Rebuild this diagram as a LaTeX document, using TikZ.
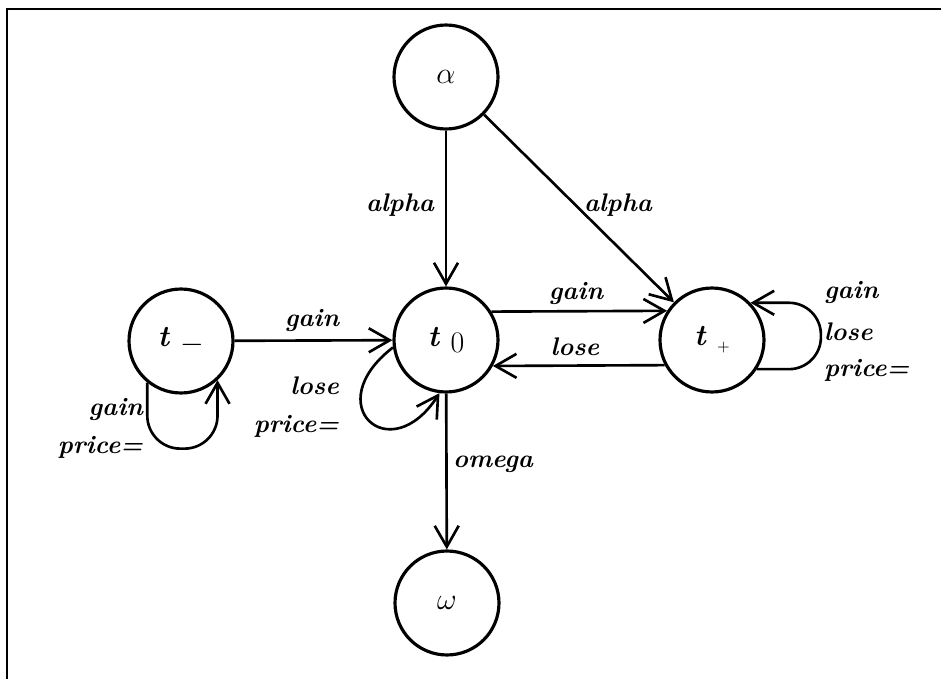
\documentclass[tikz,border=0pt]{standalone}
\usetikzlibrary{arrows.meta}
% state name: bold italic t followed by a lowered index
\newcommand{\tstate}[1]{\textbf{\textit{t}}\hspace{0.35em}\raisebox{-0.45ex}{#1}}
\begin{document}
\begin{tikzpicture}[x=0.02cm, y=-0.02cm,
  state/.style={circle, draw, line width=1.8pt, minimum size=2.08cm, inner sep=0pt,
                font=\fontsize{17}{19}\selectfont},
  edge/.style={line width=1.5pt, -{Straight Barb[length=0.42cm, width=0.48cm]}},
  lbl/.style={font=\fontsize{14.5}{17}\selectfont\bfseries\itshape, inner sep=1pt},
]
\useasboundingbox (0,0) rectangle (941,679);
% frame along the top and left
\draw[line width=1.4pt] (7,679) -- (7,9) -- (941,9);

% states
\node[state] (a)  at (446,77)  {$\alpha$};
\node[state] (t0) at (446,340) {\tstate{0}};
\node[state] (tm) at (181,341) {\tstate{$-$}};
\node[state] (tp) at (712,340) {\tstate{\small$+$}};
\node[state] (w)  at (447,603) {$\omega$};

% transitions
\draw[edge] (a) -- (t0);
\draw[edge] (a) -- (tp);
\draw[edge] (tm) -- (t0);
\draw[edge] (t0.32.6) -- (tp.147.4);
\draw[edge] (tp.208.7) -- (t0.331.3);
\draw[edge] (t0) -- (w);

% self loops
\draw[edge, rounded corners=0.66cm] (tm.231) -- ++(0,66) -| (tm.313);
\draw[edge] (t0.188) .. controls (318,405) and (390,470) .. (t0.263);
\draw[edge, rounded corners=0.64cm] (tp.327) -- ++(64,0) |- (tp.44);

% transition labels
\node[lbl] (l1) at (400,205) {alpha};
\node[lbl] (l2) at (618,205) {alpha};
\node[lbl] (l3) at (312,320) {gain};
\node[lbl] (l4) at (576,293) {gain};
\node[lbl] (l5) at (575,347) {lose};
\node[lbl] (l6) at (493,464) {omega};

% loop labels
\node[lbl, anchor=east] (m1) at (145,409) {gain};
\node[lbl, anchor=east] (m2) at (145,447) {price=};
\node[lbl, anchor=east] (n1) at (341,386) {lose};
\node[lbl, anchor=east] (n2) at (341,426) {price=};
\node[lbl, anchor=west] (p1) at (822,292) {gain};
\node[lbl, anchor=west] (p2) at (822,332) {lose};
\node[lbl, anchor=west] (p3) at (822,370) {price=};
\end{tikzpicture}
\end{document}
